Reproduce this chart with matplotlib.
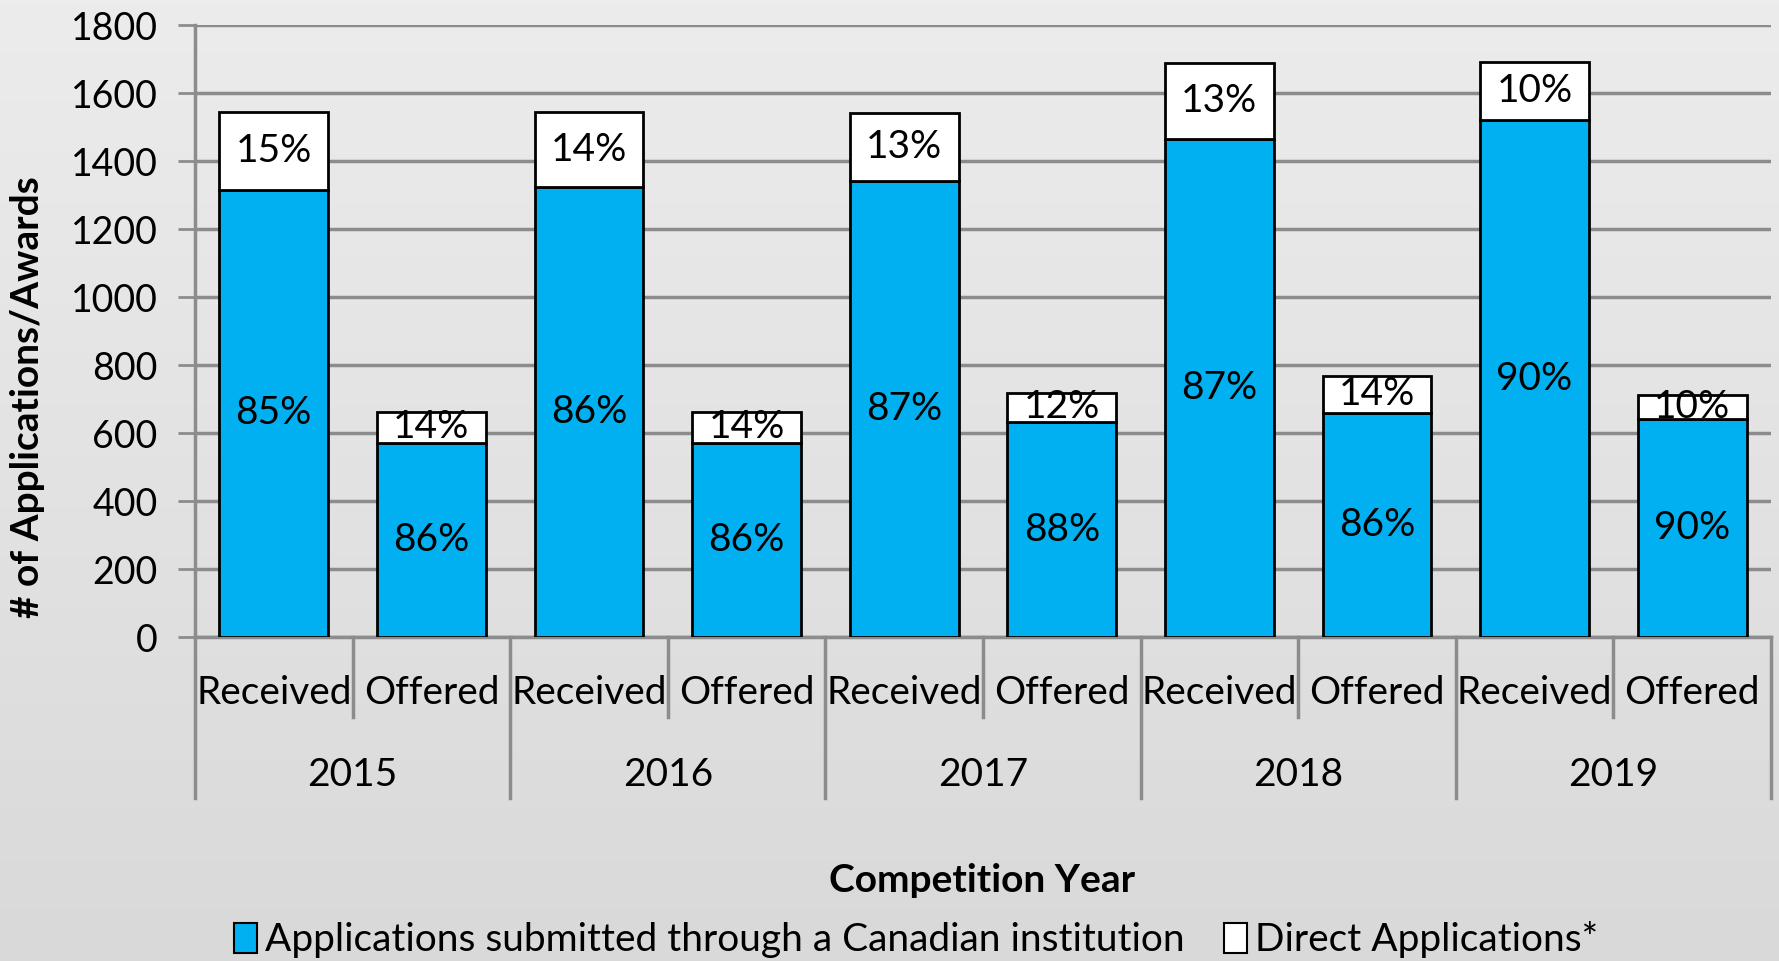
import numpy as np
import matplotlib
matplotlib.use("Agg")
import matplotlib.pyplot as plt
from matplotlib.patches import Patch
import matplotlib.transforms as mtransforms

plt.rcParams['font.family'] = ['Lato', 'DejaVu Sans']

years = ["2015", "2016", "2017", "2018", "2019"]
sub_labels = ["Received", "Offered"] * 5
canadian = [1315, 570, 1323, 572, 1340, 632, 1466, 660, 1520, 641]
direct = [228, 93, 221, 91, 201, 87, 222, 109, 172, 71]
canadian_pct = ["85%", "86%", "86%", "86%", "87%", "88%", "87%", "86%", "90%", "90%"]
direct_pct = ["15%", "14%", "14%", "14%", "13%", "12%", "13%", "14%", "10%", "10%"]
yticks = [0, 200, 400, 600, 800, 1000, 1200, 1400, 1600, 1800]

W, H = 1779, 961
fig = plt.figure(figsize=(W / 100, H / 100), dpi=100)

# background gradient
bg = fig.add_axes([0, 0, 1, 1], zorder=-10)
grad = np.linspace(0, 1, 256).reshape(-1, 1)
cmap = matplotlib.colors.LinearSegmentedColormap.from_list("bg", ["#ececec", "#d9d9d9"])
bg.imshow(grad, aspect="auto", cmap=cmap, extent=[0, 1, 0, 1], origin="upper")
bg.axis("off")

left, right, top, bottom = 195, 1771, 25, 637
ax = fig.add_axes([left / W, 1 - bottom / H, (right - left) / W, (bottom - top) / H])
ax.patch.set_alpha(0)

x = np.arange(len(canadian))
bw = 0.69
blue = "#00B0F0"
gray = "#8c8c8c"

ax.bar(x, canadian, width=bw, color=blue, edgecolor="black", linewidth=2, zorder=3)
ax.bar(x, direct, bottom=canadian, width=bw, color="white", edgecolor="black", linewidth=2, zorder=3)

fs = 28
for i in range(len(x)):
    ax.text(x[i], canadian[i] / 2, canadian_pct[i], ha="center", va="center", fontsize=fs, zorder=4)
    ax.text(x[i], canadian[i] + direct[i] / 2, direct_pct[i], ha="center", va="center", fontsize=fs, zorder=4)

ax.set_xlim(-0.5, len(x) - 0.5)
ax.set_ylim(0, 1800)
ax.set_yticks(yticks)
ax.tick_params(axis="y", length=12, width=2, color=gray, labelsize=27, pad=15)
ax.set_xticks([])
ax.yaxis.grid(True, color=gray, linewidth=2.5, zorder=0)
ax.set_axisbelow(True)
for s in ["top", "right"]:
    ax.spines[s].set_visible(False)
for s in ["left", "bottom"]:
    ax.spines[s].set_color(gray)
    ax.spines[s].set_linewidth(2.5)

trans = mtransforms.blended_transform_factory(ax.transData, ax.transAxes)
long_y = -(798 - bottom) / (bottom - top)
short_y = -(717 - bottom) / (bottom - top)
for k in range(len(x) + 1):
    xb = -0.5 + k
    y2 = long_y if k % 2 == 0 else short_y
    ax.plot([xb, xb], [0, y2], transform=trans, color=gray, linewidth=2.5, clip_on=False)

sub_y = -(693 - bottom) / (bottom - top)
year_y = -(775 - bottom) / (bottom - top)
for i in range(len(x)):
    ax.text(x[i], sub_y, sub_labels[i], transform=trans, ha="center", va="center", fontsize=fs)
for j, yr in enumerate(years):
    ax.text(2 * j + 0.5, year_y, yr, transform=trans, ha="center", va="center", fontsize=fs)

fig.text(28 / W, 1 - 397 / H, "# of Applications/Awards", rotation=90, ha="center", va="center",
         fontsize=28, fontweight="bold")
fig.text(982 / W, 1 - 880 / H, "Competition Year", ha="center", va="center", fontsize=28, fontweight="bold")

handles = [Patch(facecolor=blue, edgecolor="black", linewidth=1.5),
           Patch(facecolor="white", edgecolor="black", linewidth=1.5)]
fig.legend(handles, ["Applications submitted through a Canadian institution", "Direct Applications*"],
           loc="center", bbox_to_anchor=(916 / W, 1 - 940 / H), ncol=2, frameon=False, fontsize=28,
           handlelength=0.6, handleheight=0.8, handletextpad=0.2, columnspacing=1.0, borderpad=0)

fig.savefig("out.png", dpi=100)
